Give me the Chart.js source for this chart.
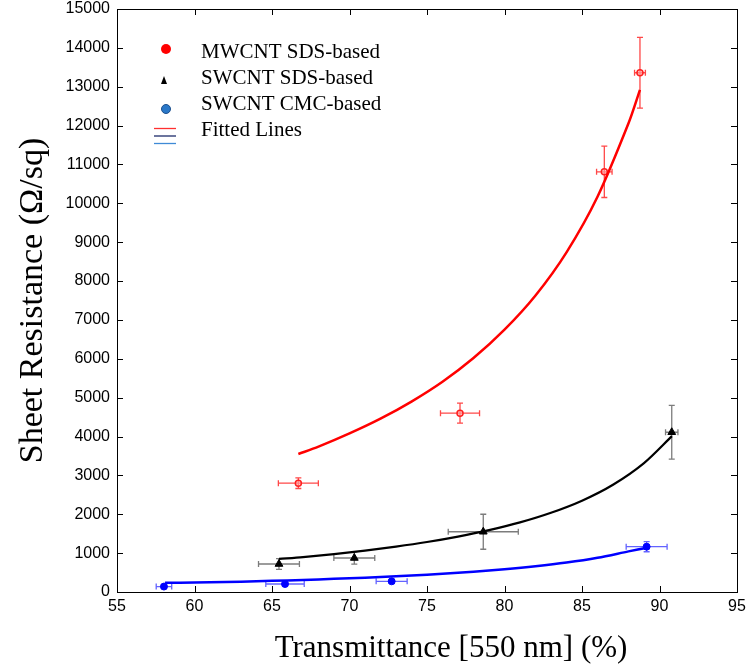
<!DOCTYPE html>
<html><head><meta charset="utf-8">
<script src="https://cdn.jsdelivr.net/npm/chart.js@4.4.0/dist/chart.umd.min.js"></script>
<style>html,body{margin:0;padding:0;background:#fff}#wrap{width:748px;height:668px}</style>
</head><body><div id="wrap"><canvas id="c" width="748" height="668"></canvas></div>
<script>
// ---- data ----
const xTicks = [55,60,65,70,75,80,85,90,95];
const yTicks = [0,1000,2000,3000,4000,5000,6000,7000,8000,9000,10000,11000,12000,13000,14000,15000];

const mwT    = [66.70, 77.13, 86.44, 88.74];
const mwR    = [2800, 4600, 10810, 13360];
const mwTerr = [1.29, 1.26, 0.50, 0.35];
const mwRerr = [137, 257, 660, 910];

const swT    = [65.45, 70.31, 78.63, 90.79];
const swR    = [720, 875, 1550, 4110];
const swTerr = [1.32, 1.32, 2.26, 0.40];
const swRerr = [137, 160, 450, 690];

const cmT    = [58.03, 65.84, 72.72, 89.17];
const cmR    = [140, 206, 275, 1166];
const cmTerr = [0.50, 1.24, 1.00, 1.32];
const cmRerr = [45, 45, 45, 130];

const mwFitT = [66.7, 68, 70, 72, 74, 76, 78, 80, 82, 84, 86, 88, 88.74];
const mwFitR = [3550, 3740, 4080, 4460, 4900, 5410, 6020, 6750, 7630, 8740, 10170, 12060, 12920];
const swFitT = [65.45, 67, 69, 71, 73, 75, 77, 79, 81, 83, 85, 87, 89, 90.8];
const swFitR = [850, 898, 976, 1065, 1168, 1286, 1426, 1591, 1791, 2039, 2350, 2760, 3317, 4010];
const cmFitT = [58.1, 60, 62, 64, 66, 68, 70, 72, 74, 76, 78, 80, 82, 84, 86, 88, 89.2];
const cmFitR = [235, 245, 258, 276, 299, 324, 353, 387, 425, 469, 522, 585, 662, 757, 881, 1045, 1140];

const legendLabels = ['MWCNT SDS-based', 'SWCNT SDS-based', 'SWCNT CMC-based', 'Fitted Lines'];
const xTitle = 'Transmittance [550 nm] (%)';
const yTitle = 'Sheet Resistance (\u03A9/sq)';

const pts = (xs, ys) => xs.map((x, i) => ({x, y: ys[i]}));

const errBars = [
  {T: mwT, R: mwR, dT: mwTerr, dR: mwRerr, color: 'rgba(255,40,40,0.85)'},
  {T: swT, R: swR, dT: swTerr, dR: swRerr, color: 'rgba(110,110,110,0.9)'},
  {T: cmT, R: cmR, dT: cmTerr, dR: cmRerr, color: 'rgba(60,60,255,0.8)'}
];

const errorPlugin = {
  id: 'errbars',
  beforeDatasetsDraw(chart) {
    const {ctx, scales: {x, y}} = chart;
    ctx.save();
    ctx.lineWidth = 1.3;
    errBars.forEach(s => {
      ctx.strokeStyle = s.color;
      s.T.forEach((t, i) => {
        const px = x.getPixelForValue(t), py = y.getPixelForValue(s.R[i]);
        const x1 = x.getPixelForValue(t - s.dT[i]), x2 = x.getPixelForValue(t + s.dT[i]);
        const y1 = y.getPixelForValue(s.R[i] - s.dR[i]), y2 = y.getPixelForValue(s.R[i] + s.dR[i]);
        const c = 3;
        ctx.beginPath();
        ctx.moveTo(x1, py); ctx.lineTo(x2, py);
        ctx.moveTo(x1, py - c); ctx.lineTo(x1, py + c);
        ctx.moveTo(x2, py - c); ctx.lineTo(x2, py + c);
        ctx.moveTo(px, y1); ctx.lineTo(px, y2);
        ctx.moveTo(px - c, y1); ctx.lineTo(px + c, y1);
        ctx.moveTo(px - c, y2); ctx.lineTo(px + c, y2);
        ctx.stroke();
      });
    });
    ctx.restore();
  }
};

const framePlugin = {
  id: 'frame',
  afterDatasetsDraw(chart) {
    const {ctx, chartArea: a, scales: {x, y}} = chart;
    ctx.save();
    ctx.strokeStyle = '#000';
    ctx.lineWidth = 1;
    ctx.strokeRect(Math.round(a.left) + 0.5, Math.round(a.top) + 0.5, Math.round(a.right - a.left), Math.round(a.bottom - a.top));
    const L = 6;
    ctx.beginPath();
    xTicks.forEach(v => {
      const px = Math.round(x.getPixelForValue(v)) + 0.5;
      ctx.moveTo(px, a.bottom); ctx.lineTo(px, a.bottom - L);
      ctx.moveTo(px, a.top); ctx.lineTo(px, a.top + L);
    });
    yTicks.forEach(v => {
      const py = Math.round(y.getPixelForValue(v)) + 0.5;
      ctx.moveTo(a.left, py); ctx.lineTo(a.left + L, py);
      ctx.moveTo(a.right, py); ctx.lineTo(a.right - L, py);
    });
    ctx.stroke();
    ctx.restore();
  },
  afterDraw(chart) {
    const {ctx, chartArea: a} = chart;
    ctx.save();
    // x axis title
    ctx.font = '31px "Liberation Serif", "Times New Roman", serif';
    ctx.fillStyle = '#000';
    ctx.textAlign = 'center';
    ctx.textBaseline = 'alphabetic';
    ctx.fillText(xTitle, (a.left + a.right) / 2 + 24, 657);
    // legend
    const mx = 166, tx = 201;
    const rows = [52, 78, 104, 130];
    ctx.font = '21px "Liberation Serif", "Times New Roman", serif';
    ctx.textBaseline = 'middle';
    ctx.textAlign = 'left';
    legendLabels.forEach((t, i) => ctx.fillText(t, tx, rows[i]));
    // red dot
    ctx.fillStyle = '#ff0000';
    ctx.beginPath(); ctx.arc(mx, 49, 5, 0, Math.PI * 2); ctx.fill();
    // black triangle
    ctx.fillStyle = '#000';
    ctx.beginPath(); ctx.moveTo(164, 76); ctx.lineTo(167, 84); ctx.lineTo(161, 84); ctx.closePath(); ctx.fill();
    // blue dot
    ctx.fillStyle = '#2a78c8'; ctx.strokeStyle = '#1d4f8c'; ctx.lineWidth = 1;
    ctx.beginPath(); ctx.arc(mx, 109, 4.5, 0, Math.PI * 2); ctx.fill(); ctx.stroke();
    // fitted lines
    ctx.lineWidth = 1.3;
    [['#ff3030', 128.5], ['#1c2a6a', 136], ['#3f8ad6', 143.5]].forEach(([c, yy]) => {
      ctx.strokeStyle = c; ctx.beginPath(); ctx.moveTo(154, yy); ctx.lineTo(176, yy); ctx.stroke();
    });
    ctx.restore();
  }
};

const tickFont = {family: '"Liberation Sans", Arial, sans-serif', size: 16};
const titleFont = {family: '"Liberation Serif", "Times New Roman", serif', size: 34, lineHeight: 1.2};

new Chart(document.getElementById('c'), {
  type: 'scatter',
  data: {
    datasets: [
      {data: pts(mwFitT, mwFitR), showLine: true, borderColor: '#ff0000', borderWidth: 2.5, pointRadius: 0, tension: 0.3, fill: false},
      {data: pts(swFitT, swFitR), showLine: true, borderColor: '#000000', borderWidth: 2.2, pointRadius: 0, tension: 0.3, fill: false},
      {data: pts(cmFitT, cmFitR), showLine: true, borderColor: '#0000ff', borderWidth: 2.5, pointRadius: 0, tension: 0.3, fill: false},
      {data: pts(mwT, mwR), pointStyle: 'circle', pointRadius: 3, borderColor: '#ff2020', borderWidth: 1.5, backgroundColor: 'rgba(255,170,170,0.6)'},
      {data: pts(swT, swR), pointStyle: 'triangle', pointRadius: 4.5, borderColor: '#000', borderWidth: 1, backgroundColor: '#000'},
      {data: pts(cmT, cmR), pointStyle: 'circle', pointRadius: 3.5, borderColor: '#0000ff', borderWidth: 1, backgroundColor: '#0000ff'}
    ]
  },
  options: {
    responsive: false,
    animation: false,
    layout: {padding: {top: 9, right: 11, left: 0, bottom: 0}},
    plugins: {legend: {display: false}, tooltip: {enabled: false}},
    scales: {
      x: {
        type: 'linear', min: 55, max: 95,
        afterBuildTicks(s) { s.ticks = xTicks.map(v => ({value: v})); },
        afterFit(s) { s.height = 76; s.paddingLeft = 0; s.paddingRight = 0; },
        grid: {display: false, drawTicks: false},
        border: {display: false},
        ticks: {font: tickFont, color: '#000', padding: 5, autoSkip: false, maxRotation: 0},
        title: {display: false, text: xTitle}
      },
      y: {
        type: 'linear', min: 0, max: 15000,
        afterBuildTicks(s) { s.ticks = yTicks.map(v => ({value: v})); },
        afterFit(s) { s.width = 117; s.paddingTop = 0; s.paddingBottom = 0; },
        grid: {display: false, drawTicks: false},
        border: {display: false},
        ticks: {font: tickFont, color: '#000', padding: 7, autoSkip: false, callback: v => String(v)},
        title: {display: true, text: yTitle, font: titleFont, color: '#000', padding: {top: 13, bottom: 0}}
      }
    }
  },
  plugins: [errorPlugin, framePlugin]
});
</script>
</body></html>
